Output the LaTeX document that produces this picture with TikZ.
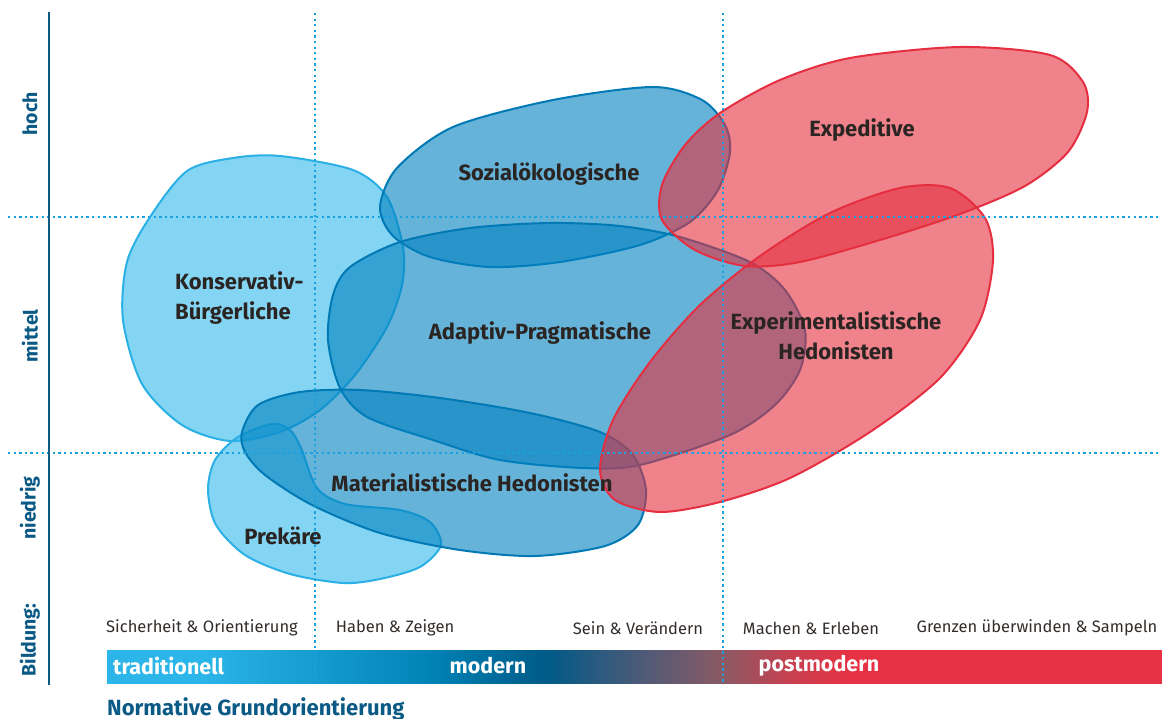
\documentclass[tikz,border=0pt]{standalone}
\usepackage{fontspec}
\setmainfont{Fira Sans}
\definecolor{lbfill}{RGB}{50,185,235}
\definecolor{lbline}{RGB}{43,176,229}
\definecolor{bfill}{RGB}{0,128,192}
\definecolor{bline}{RGB}{0,121,180}
\definecolor{rfill}{RGB}{228,47,62}
\definecolor{rline}{RGB}{229,47,64}
\definecolor{dotc}{RGB}{27,160,224}
\definecolor{axisc}{RGB}{11,90,133}
\definecolor{txt}{RGB}{42,37,34}
\definecolor{subtxt}{RGB}{50,45,42}
\definecolor{gA}{RGB}{43,181,232}
\definecolor{gB}{RGB}{0,130,181}
\definecolor{gC}{RGB}{0,90,135}
\definecolor{gD}{RGB}{74,90,120}
\definecolor{gE}{RGB}{138,90,101}
\definecolor{gF}{RGB}{200,64,80}
\definecolor{gG}{RGB}{230,50,68}
\pgfdeclarehorizontalshading{barshade}{100bp}{color(0bp)=(gA); color(29.41bp)=(gA); color(40.45bp)=(gB); color(45.85bp)=(gC); color(50.12bp)=(gD); color(54.10bp)=(gE); color(57.37bp)=(gF); color(60.21bp)=(gG); color(100bp)=(gG)}
\begin{document}
\begin{tikzpicture}[x=1pt,y=-1pt,
  blobL/.style={fill=lbfill, fill opacity=0.6, draw=lbline, line width=2pt},
  blobB/.style={fill=bfill, fill opacity=0.6, draw=bline, line width=2pt},
  blobR/.style={fill=rfill, fill opacity=0.6, draw=rline, line width=2pt},
  dotline/.style={draw=dotc, line width=2.6pt, dash pattern=on 2.3pt off 3.3pt},
  lbl/.style={font=\fontsize{22}{30}\selectfont\bfseries, text=txt, align=center, inner sep=0pt},
  axlbl/.style={font=\fontsize{19.5}{22}\selectfont\bfseries, text=axisc, rotate=90, inner sep=0pt},
  sublbl/.style={font=\fontsize{16.5}{19}\selectfont, text=subtxt, inner sep=0pt},
  barlbl/.style={font=\fontsize{21.5}{24}\selectfont\bfseries, text=white, inner sep=0pt},
]
\useasboundingbox (0,0) rectangle (1162,719);

% gradient bar
\shade[shading=barshade] (107,650) rectangle (1162,683);

% shapes
\draw[blobL] plot[smooth cycle] coordinates {(280,156) (353,170) (387,197) (403,247) (402,285) (387,327) (355,375) (320,410) (280,432) (230,441) (182,425) (142,384) (123,320) (127,262) (150,217) (187,171) (233,158)};
\draw[blobL] plot[smooth cycle] coordinates {(272,424) (290,430) (301,448) (317,488) (345,504) (400,510) (430,522) (441,545) (420,567) (380,579) (343,583) (290,574) (245,555) (216,525) (208,490) (215,460) (238,437)};
\draw[blobB] plot[smooth cycle] coordinates {(380,207) (397,168) (453,127) (553,100) (653,87) (702,100) (725,125) (730,152) (718,190) (690,222) (640,245) (560,262) (490,267) (430,257) (393,236)};
\draw[blobB] plot[smooth cycle] coordinates {(350,267) (400,242) (470,228) (550,223) (620,226) (680,237) (750,262) (785,290) (805,330) (800,370) (775,405) (730,435) (640,465) (583,468) (500,460) (433,440) (367,417) (340,388) (328,340) (333,295)};
\draw[blobB] plot[smooth cycle] coordinates {(242,432) (258,405) (300,392) (360,390) (440,398) (530,413) (600,432) (633,455) (646,490) (638,525) (605,546) (535,556) (460,550) (380,533) (312,505) (265,475) (245,452)};
\draw[blobR] plot[smooth cycle] coordinates {(662,220) (662,185) (685,145) (720,113) (780,80) (850,58) (960,47) (1050,55) (1083,82) (1087,112) (1068,152) (1025,186) (960,214) (880,240) (800,262) (745,266) (695,250)};
\draw[blobR] plot[smooth cycle] coordinates {(600,470) (613,420) (650,362) (700,305) (760,256) (830,213) (900,188) (950,188) (985,218) (993,260) (980,320) (940,378) (870,432) (790,478) (720,502) (660,512) (615,500)};

% grid lines
\draw[dotline] (315,13) -- (315,683);
\draw[dotline] (723,13) -- (723,683);
\draw[dotline] (8,217) -- (1162,217);
\draw[dotline] (8,453) -- (1162,453);
\draw[axisc, line width=2.5pt] (49,12) -- (49,685);

% segment labels
\node[lbl, align=left, anchor=west] (kb) at (175,298) {Konservativ-\\Bürgerliche};
\node[lbl] (so) at (549,174) {Sozialökologische};
\node[lbl] (ap) at (540,333) {Adaptiv-Pragmatische};
\node[lbl] (ex) at (862,130) {Expeditive};
\node[lbl] (eh) at (836,336) {Experimentalistische\\Hedonisten};
\node[lbl] (mh) at (472,483) {Materialistische Hedonisten};
\node[lbl] (pr) at (283,536) {Prekäre};

% axis labels
\node[axlbl] (hoch) at (30,114) {hoch};
\node[axlbl] (mittel) at (30,336) {mittel};
\node[axlbl] (niedrig) at (30,508) {niedrig};
\node[axlbl] (bildung) at (30,640) {Bildung:};

% value orientation labels
\node[sublbl] (s1) at (202,628) {Sicherheit \& Orientierung};
\node[sublbl] (s2) at (395,628) {Haben \& Zeigen};
\node[sublbl] (s3) at (638,628) {Sein \& Verändern};
\node[sublbl] (s4) at (811,628) {Machen \& Erleben};
\node[sublbl] (s5) at (1037,628) {Grenzen überwinden \& Sampeln};

\node[barlbl, anchor=west] (trad) at (113,666) {traditionell};
\node[barlbl] (mod) at (488,666) {modern};
\node[barlbl] (post) at (819,666) {postmodern};

\node[font=\fontsize{22}{24}\selectfont\bfseries, text=axisc, anchor=west, inner sep=0pt] (norm) at (107,709) {Normative Grundorientierung};
\end{tikzpicture}
\end{document}
